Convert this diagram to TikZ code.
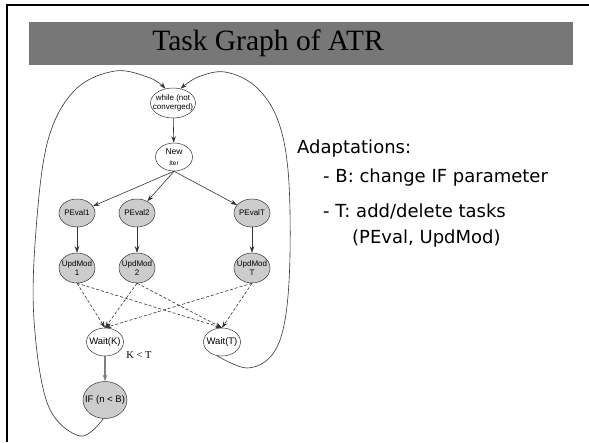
\documentclass[tikz,border=0pt]{standalone}
\usepackage{fontspec}
\setmainfont{Liberation Serif}
\newfontfamily\nodefont{Liberation Sans}
\newfontfamily\notefont{DejaVu Sans}
\usetikzlibrary{arrows.meta,shapes.geometric}
\definecolor{bandgray}{HTML}{777777}
\definecolor{nodegray}{HTML}{CCCCCC}
\definecolor{edgegray}{HTML}{333333}
% zero-width line, so that a label never widens its ellipse
\newcommand\zw[1]{\makebox[0pt]{#1}}

\begin{document}
\begin{tikzpicture}[x=1pt,y=-1pt,
  task/.style={ellipse, draw=edgegray, line width=0.5pt, inner sep=0pt, align=center,
    minimum width=36pt, minimum height=28pt},
  plain/.style={task, fill=white},
  shaded/.style={task, fill=nodegray},
  small/.style={font=\nodefont\fontsize{8}{8.5}\selectfont},
  large/.style={font=\nodefont\fontsize{9.5}{10}\selectfont},
  flow/.style={-{Stealth[length=6.5pt,width=4.5pt]}, line width=0.6pt, draw=edgegray},
  dep/.style={flow, dash pattern=on 3pt off 2pt},
  note/.style={font=\notefont\fontsize{18}{20}\selectfont, inner sep=0pt, anchor=base west}]

\useasboundingbox (0,0) rectangle (589,442);

% slide frame and title band
\draw[line width=2pt] (589,5) -- (7,5) -- (7,442);
\fill[bandgray] (29,22) rectangle (573,65);
\node[font=\fontsize{29.5}{31}\selectfont, inner sep=0pt, anchor=base] (title) at (268,50) {Task Graph of ATR};

% tasks
\node[plain, small, minimum width=45pt, minimum height=30pt] (while) at (173,103) {\zw{while (not}\\\zw{converged)}};
\node[plain, minimum width=37pt, minimum height=28pt] (iter) at (174,157)
  {\zw{\nodefont\fontsize{8.5}{9}\selectfont New}\\[-1pt]\zw{\nodefont\fontsize{6.5}{7}\selectfont Iter}};
\node[shaded, small] (pe1) at (77,213) {\zw{PEval1}};
\node[shaded, small] (pe2) at (137,213) {\zw{PEval2}};
\node[shaded, small] (peT) at (252,213) {\zw{PEvalT}};
\node[shaded, small, minimum height=30pt] (um1) at (77,268) {\zw{UpdMod}\\\zw{1}};
\node[shaded, small, minimum height=30pt] (um2) at (137,268) {\zw{UpdMod}\\\zw{2}};
\node[shaded, small, minimum height=30pt] (umT) at (252,268) {\zw{UpdMod}\\\zw{T}};
\node[plain, large, minimum width=37pt] (wk) at (105,342) {\zw{Wait(K)}};
\node[plain, large, minimum width=37pt] (wt) at (222,342) {\zw{Wait(T)}};
\node[shaded, large, minimum width=44pt, minimum height=37pt] (if) at (105,400) {\zw{IF (n < B)}};
\node[font=\fontsize{10.5}{11}\selectfont, inner sep=0pt] (kt) at (139,355) {K < T};

% control flow
\draw[flow] (while) -- (iter);
\draw[flow] (iter.south) -- (pe1);
\draw[flow] (iter.south) -- (pe2);
\draw[flow] (iter.south) -- (peT);
\draw[flow] (pe1) -- (um1);
\draw[flow] (pe2) -- (um2);
\draw[flow] (peT) -- (umT);
\draw[flow, draw=gray, line width=1.1pt] (wk) -- (if);

% data dependencies
\foreach \u in {um1,um2,umT}{
  \draw[dep] (\u.south) -- (wk.north);
  \draw[dep] (\u.south) -- (wt.north);
}

% loops back to the top
\draw[flow] plot[smooth, tension=0.6] coordinates {(if.-95) (80,436) (48,405) (34,320) (36,230) (48,140) (75,90) (115,71) (150,78) (while.118)};
\draw[flow] plot[smooth, tension=0.6] coordinates {(wt.-110) (247,368) (272,355) (285,320) (290,255) (288,170) (277,118) (255,86) (225,72) (198,77) (while.62)};

% notes
\node[note] (adapt) at (297,153) {Adaptations:};
\node[note] (nb) at (323,182) {- B: change IF parameter};
\node[note] (nt) at (323,217) {- T: add/delete tasks};
\node[note] (ntt) at (352,243) {(PEval, UpdMod)};
\end{tikzpicture}
\end{document}
